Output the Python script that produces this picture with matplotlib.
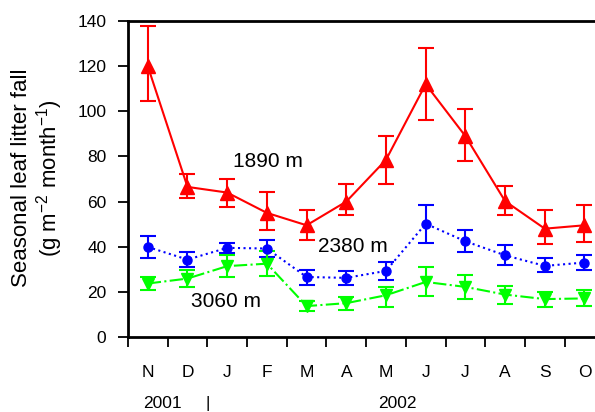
import matplotlib.pyplot as plt
import numpy as np

plt.rcParams['font.family'] = ['Liberation Sans', 'DejaVu Sans']
plt.rcParams['mathtext.fontset'] = 'custom'
plt.rcParams['mathtext.rm'] = 'Liberation Sans'
plt.rcParams['mathtext.it'] = 'Liberation Sans'
plt.rcParams['mathtext.default'] = 'rm'

# data
months = ['N', 'D', 'J', 'F', 'M', 'A', 'M', 'J', 'J', 'A', 'S', 'O']

red_mean = [120, 66.5, 64, 55, 49.5, 60, 78.5, 112, 89, 60.2, 48, 49.5]
red_low = [104.4, 61.5, 57.5, 47.3, 43.2, 53.9, 68, 96.3, 78, 53.9, 41.1, 42.1]
red_high = [138, 72, 70.1, 64.2, 56.4, 67.6, 89, 128, 101, 67.1, 56.1, 58.3]

blue_mean = [39.9, 34.3, 39.5, 39.2, 26.6, 26.2, 29.3, 50.2, 42.4, 36.2, 31.5, 33]
blue_low = [35.2, 30.8, 37.2, 35.5, 23, 23, 25.2, 41.7, 37.5, 31.8, 28.7, 29.6]
blue_high = [44.8, 37.7, 41.7, 42.8, 29.9, 29.3, 33.3, 58.7, 47.3, 40.6, 35, 36.2]

green_mean = [23.7, 25.9, 31.4, 32.5, 13.7, 15, 18.5, 24.4, 22.2, 18.8, 16.8, 17.1]
green_low = [20.8, 22.2, 26.4, 27.1, 11.5, 12, 13.4, 18.1, 16.8, 14.6, 13.1, 13.7]
green_high = [26.4, 29.6, 36.2, 38.1, 16, 17.7, 22.2, 30.8, 27.4, 22.5, 20, 20.8]

x = np.arange(len(months)) + 0.5

fig = plt.figure(figsize=(5.95, 4.12), dpi=100)
ax = fig.add_axes([0.215, 0.182, 0.8007, 0.767])


def series(mean, low, high, color, ls, marker, ms):
    mean = np.array(mean)
    yerr = [mean - np.array(low), np.array(high) - mean]
    ax.errorbar(x, mean, yerr=yerr, color=color, ls=ls, lw=1.5,
                marker=marker, ms=ms, capsize=6, elinewidth=1.5,
                capthick=1.5, zorder=3)


series(red_mean, red_low, red_high, '#ff0000', '-', '^', 10.5)
series(blue_mean, blue_low, blue_high, '#0000ff', ':', 'o', 6.5)
series(green_mean, green_low, green_high, '#00ff00', '-.', 'v', 8.5)

ax.text(2.65, 77.7, '1890 m', fontsize=15, va='center')
ax.text(4.8, 39.9, '2380 m', fontsize=15, va='center')
ax.text(1.6, 15.6, '3060 m', fontsize=15, va='center')

ax.set_xlim(0, 12)
ax.set_ylim(0, 140)
ax.set_yticks(np.arange(0, 141, 20))
ax.set_xticks(np.arange(0, 12))
ax.set_xticklabels([])
ax.set_xticks(x, minor=True)
ax.set_xticklabels(months, minor=True)
ax.tick_params(axis='x', which='minor', length=0, pad=20, labelsize=12.5)
ax.tick_params(axis='x', which='major', direction='out', length=7.5, width=1.3)
ax.tick_params(axis='y', direction='out', length=7.5, width=1.3,
               labelsize=12.5, pad=8)
for s in ax.spines.values():
    s.set_linewidth(2)

ax.text(0.88, -0.209, '2001', transform=ax.get_xaxis_transform(),
        ha='center', va='center', fontsize=12.5)
ax.text(2.0, -0.209, '|', transform=ax.get_xaxis_transform(),
        ha='center', va='center', fontsize=12.5)
ax.text(6.78, -0.209, '2002', transform=ax.get_xaxis_transform(),
        ha='center', va='center', fontsize=12.5)

ax.set_ylabel('Seasonal leaf litter fall\n(g m$^{-2}$ month$^{-1}$)',
              fontsize=16, linespacing=1.1, va='center')
ax.yaxis.set_label_coords(-0.189, 0.503)

fig.savefig('out.png', dpi=100)
